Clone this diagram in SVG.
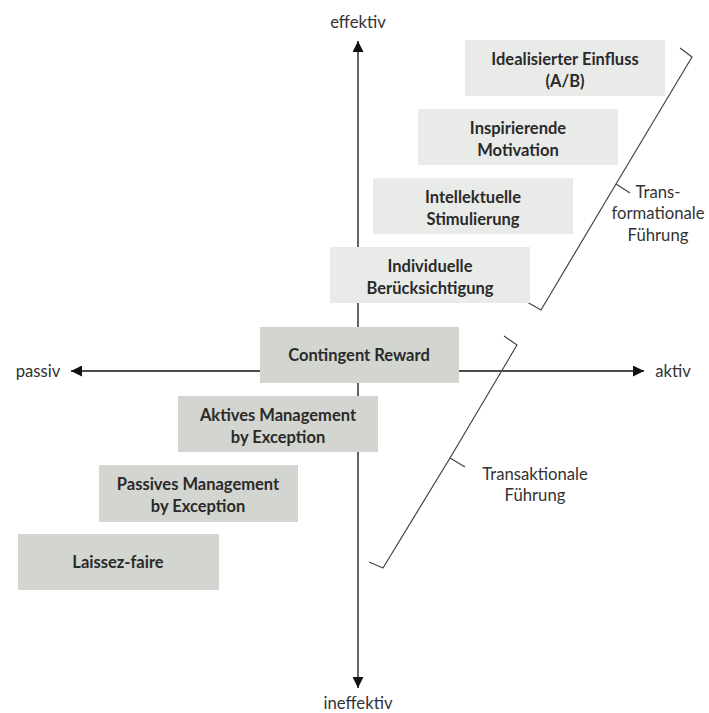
<svg xmlns="http://www.w3.org/2000/svg" width="709" height="713" viewBox="0 0 709 713">
<style>
.lt{fill:#e9ebe8}
.dk{fill:#d2d5d0}
.bt{font-family:Lato,"Open Sans","Liberation Sans",sans-serif;font-weight:bold;font-size:16.5px;fill:#2a2a2a;text-anchor:middle}
.lb{font-family:Lato,"Open Sans","Liberation Sans",sans-serif;font-size:16.7px;fill:#333;text-anchor:middle}
.ax{stroke:#111;stroke-width:1.3;fill:none}
.br{stroke:#444;stroke-width:1.2;fill:none;stroke-linejoin:round}
</style>
<defs>
<marker id="ah" viewBox="0 0 10 10" refX="10" refY="5" markerWidth="11" markerHeight="11" markerUnits="userSpaceOnUse" orient="auto">
<path d="M0,0 L10,5 L0,10 z" fill="#111"/>
</marker>
</defs>
<rect width="709" height="713" fill="#fff"/>
<g id="connectors">
<line class="ax" x1="358" y1="360" x2="358" y2="41" marker-end="url(#ah)"/>
<line class="ax" x1="358" y1="360" x2="358" y2="688" marker-end="url(#ah)"/>
<line class="ax" x1="358" y1="371" x2="71" y2="371" marker-end="url(#ah)"/>
<line class="ax" x1="358" y1="371" x2="644" y2="371" marker-end="url(#ah)"/>
<path class="br" d="M680,48 L692,57 L616,184 L630,193 M616,184 L541,310 L527,302"/>
<path class="br" d="M504,336 L517,345 L450,458 L465,467 M450,458 L383,568 L369,562"/>
</g>
<g id="axis-labels">
<text class="lb" x="358" y="28">effektiv</text>
<text class="lb" x="358" y="709">ineffektiv</text>
<text class="lb" x="38" y="377">passiv</text>
<text class="lb" x="673" y="377">aktiv</text>
</g>
<g id="n1"><rect class="lt" x="465" y="40" width="200" height="56"/><text class="bt" x="565" y="65">Idealisierter Einfluss</text><text class="bt" x="565" y="87">(A/B)</text></g>
<g id="n2"><rect class="lt" x="418" y="109" width="200" height="56"/><text class="bt" x="518" y="134">Inspirierende</text><text class="bt" x="518" y="156">Motivation</text></g>
<g id="n3"><rect class="lt" x="373" y="178" width="200" height="56"/><text class="bt" x="473" y="203">Intellektuelle</text><text class="bt" x="473" y="225">Stimulierung</text></g>
<g id="n4"><rect class="lt" x="330" y="247" width="200" height="56"/><text class="bt" x="430" y="272">Individuelle</text><text class="bt" x="430" y="294">Berücksichtigung</text></g>
<g id="n5"><rect class="dk" x="260" y="327" width="199" height="56"/><text class="bt" x="359" y="361">Contingent Reward</text></g>
<g id="n6"><rect class="dk" x="178" y="396" width="200" height="56"/><text class="bt" x="278" y="421">Aktives Management</text><text class="bt" x="278" y="443">by Exception</text></g>
<g id="n7"><rect class="dk" x="99" y="465" width="199" height="57"/><text class="bt" x="198" y="490">Passives Management</text><text class="bt" x="198" y="512">by Exception</text></g>
<g id="n8"><rect class="dk" x="18" y="534" width="201" height="56"/><text class="bt" x="118" y="568">Laissez-faire</text></g>
<g id="labels">
<text class="lb" x="658" y="198">Trans-</text>
<text class="lb" x="658" y="219">formationale</text>
<text class="lb" x="658" y="241">Führung</text>
<text class="lb" x="535" y="480">Transaktionale</text>
<text class="lb" x="535" y="501">Führung</text>
</g>
</svg>
